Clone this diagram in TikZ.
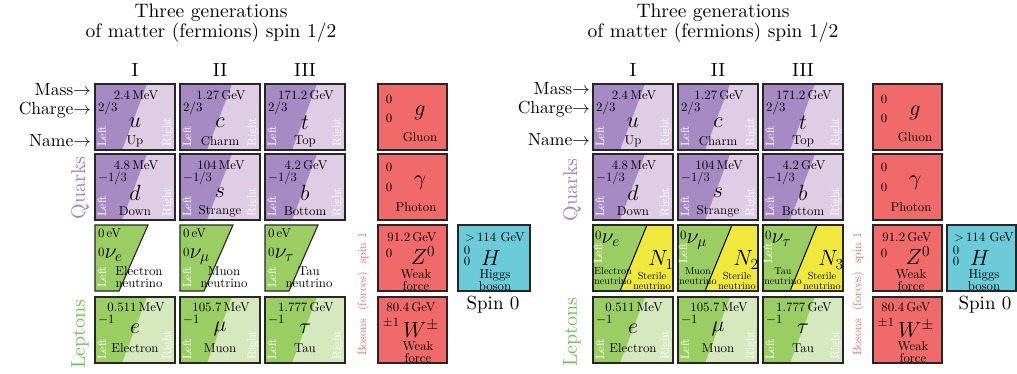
\RequirePackage{fix-cm}
\documentclass[tikz,border=0pt]{standalone}
\usepackage{fontspec}
\setmainfont{lmroman10-regular.otf}[ItalicFont=lmroman10-italic.otf,BoldFont=lmroman10-bold.otf,BoldItalicFont=lmroman10-bolditalic.otf]
\definecolor{qdark}{RGB}{167,138,196}
\definecolor{qlight}{RGB}{222,205,229}
\definecolor{ldark}{RGB}{154,206,98}
\definecolor{llight}{RGB}{214,232,190}
\definecolor{bred}{RGB}{240,106,106}
\definecolor{hcyan}{RGB}{108,203,217}
\definecolor{nyellow}{RGB}{240,232,58}
\definecolor{qlabel}{RGB}{160,128,200}
\definecolor{llabel}{RGB}{108,196,80}
\definecolor{blabel}{RGB}{238,110,110}
\tikzset{
  cellbox/.style 2 args={draw=black!85,line width=1.1pt,inner sep=0pt,minimum width=#1pt,minimum height=#2pt},
  boxt/.style={inner sep=0pt,font=\fontsize{12.8}{12.5}\selectfont},
  smallt/.style={inner sep=0pt,font=\fontsize{10.2}{10.5}\selectfont},
  symt/.style={inner sep=0pt,font=\fontsize{22}{22}\selectfont},
  lrt/.style={inner sep=0pt,rotate=90,anchor=west,text=white,font=\fontsize{12}{12}\selectfont},
  titlet/.style={inner sep=0pt,align=center,font=\fontsize{19.5}{20.5}\selectfont},
  headt/.style={inner sep=0pt,font=\fontsize{19}{20}\selectfont},
  labelt/.style={inner sep=0pt,anchor=east,font=\fontsize{17.5}{18}\selectfont},
  famt/.style={inner sep=0pt,rotate=90,font=\fontsize{20}{21}\selectfont},
}
\newcommand{\symfont}{\fontsize{22}{22}\selectfont}
\newcommand{\splitcell}[9]{%
  \begin{scope}[shift={(#2,#3)}]
    \fill[#5] (0,0) rectangle (80,66);
    \fill[#4] (0,0) -- (52,0) -- (27,66) -- (0,66) -- cycle;
    \node[cellbox={80}{66}] (#1) at (40,33) {};
    \node[lrt] (#1-left) at (7,63) {Left};
    \node[lrt] (#1-right) at (73,63) {Right};
    \node[boxt] (#1-mass) at (41,\massy) {#6};
    \node[boxt,anchor=west] (#1-charge) at (3,\chy) {#7};
    \node[symt] (#1-sym) at (40,\symy) {$#8$};
    \node[boxt] (#1-name) at (40,\namey) {#9};
  \end{scope}}
\newcommand{\nucellA}[5]{%
  \begin{scope}[shift={(#2,#3)}]
    \filldraw[fill=ldark,draw=black!85,line width=1.1pt] (0,0) -- (53,0) -- (24,66) -- (0,66) -- cycle;
    \node[lrt] (#1-left) at (7,63) {Left};
    \node[boxt,anchor=west] (#1-mass) at (3,8) {0\,eV};
    \node[boxt,anchor=base west] (#1-sym) at (3,33) {\raisebox{2pt}{0}{\symfont$#4$}};
    \node[boxt,align=center] (#1-name) at (44,52) {#5};
  \end{scope}}
\newcommand{\nucellB}[6]{%
  \begin{scope}[shift={(#2,#3)}]
    \fill[nyellow] (0,0) rectangle (80,66);
    \fill[ldark] (0,0) -- (54,0) -- (27,66) -- (0,66) -- cycle;
    \draw[black,line width=1pt] (54,0) -- (27,66);
    \node[cellbox={80}{66}] (#1) at (40,33) {};
    \node[lrt] (#1-left) at (5,39) {Left};
    \node[boxt,anchor=base west] (#1-sym) at (2,18) {\raisebox{4pt}{0}{\symfont$#4$}};
    \node[smallt,align=center] (#1-name) at (20,51) {#5};
    \node[symt] (#1-N) at (68,35) {$#6$};
    \node[smallt,align=center] (#1-st) at (59,56) {Sterile\\neutrino};
  \end{scope}}
\newcommand{\bcell}[5]{\node[cellbox={#5}{66},fill=#4] (#1) at ({#2+#5/2},{#3+33}) {};}
\newcommand{\bosonset}[4]{%
  \bcell{#1g}{#2}{84}{bred}{69}
  \bcell{#1a}{#2}{154}{bred}{69}
  \bcell{#1z}{#2}{225}{bred}{69}
  \bcell{#1w}{#2}{297}{bred}{69}
  \bcell{#1h}{#3}{225}{hcyan}{#4}
  \begin{scope}[shift={(#2,84)}]
    \node[boxt] (#1g-m) at (11,15) {0};
    \node[boxt] (#1g-c) at (11,34) {0};
    \node[symt] (#1g-s) at (42,29) {$g$};
    \node[boxt] (#1g-n) at (42,53) {Gluon};
  \end{scope}
  \begin{scope}[shift={(#2,154)}]
    \node[boxt] (#1a-m) at (11,13) {0};
    \node[boxt] (#1a-c) at (11,33) {0};
    \node[symt] (#1a-s) at (42,29) {$\gamma$};
    \node[boxt] (#1a-n) at (38,53) {Photon};
  \end{scope}
  \begin{scope}[shift={(#2,225)}]
    \node[boxt] (#1z-m) at (34,12) {91.2\,GeV};
    \node[boxt] (#1z-c) at (11,28) {0};
    \node[symt] (#1z-s) at (45,31) {$Z^0$};
    \node[boxt,align=center] (#1z-n) at (38,55) {Weak\\force};
  \end{scope}
  \begin{scope}[shift={(#2,297)}]
    \node[boxt] (#1w-m) at (33,10) {80.4\,GeV};
    \node[boxt] (#1w-c) at (13,26) {$\pm1$};
    \node[symt] (#1w-s) at (43,32) {$W^\pm$};
    \node[boxt,align=center] (#1w-n) at (40,55) {Weak\\force};
  \end{scope}
  \begin{scope}[shift={(#3,225)}]
    \node[boxt] (#1h-m) at (37,12) {$>$\,114 GeV};
    \node[boxt] (#1h-m2) at (9,25) {0};
    \node[boxt] (#1h-c) at (9,36) {0};
    \node[symt] (#1h-s) at (33,33) {$H$};
    \node[boxt,align=center] (#1h-n) at (37,55) {Higgs\\boson};
  \end{scope}}
\newcommand{\panel}[7]{% #1 prefix, #2 col1, #3 col2, #4 col3, #5 boson x, #6 higgs x, #7 higgs w
  \def\massy{11}\def\chy{24}\def\symy{39}\def\namey{57}%
  \splitcell{#1u}{#2}{84}{qdark}{qlight}{2.4\,MeV}{2/3}{u}{Up}
  \splitcell{#1c}{#3}{84}{qdark}{qlight}{1.27\,GeV}{2/3}{c}{Charm}
  \splitcell{#1t}{#4}{84}{qdark}{qlight}{171.2\,GeV}{2/3}{t}{Top}
  \splitcell{#1d}{#2}{154}{qdark}{qlight}{4.8\,MeV}{$-1/3$}{d}{Down}
  \splitcell{#1s}{#3}{154}{qdark}{qlight}{104\,MeV}{$-1/3$}{s}{Strange}
  \splitcell{#1b}{#4}{154}{qdark}{qlight}{4.2\,GeV}{$-1/3$}{b}{Bottom}
  \def\massy{10}\def\chy{23}\def\symy{32}\def\namey{51}%
  \splitcell{#1e}{#2}{297}{ldark}{llight}{0.511\,MeV}{$-1$}{e}{Electron}
  \splitcell{#1m}{#3}{297}{ldark}{llight}{105.7\,MeV}{$-1$}{\mu}{Muon}
  \splitcell{#1ta}{#4}{297}{ldark}{llight}{1.777\,GeV}{$-1$}{\tau}{Tau}
  \bosonset{#1}{#5}{#6}{#7}}
\begin{document}
\begin{tikzpicture}[x=1pt,y=-1pt]
\useasboundingbox (0,0) rectangle (1017,373);
% ---------- left panel ----------
\node[titlet] (Ltitle) at (211,23) {Three generations\\of matter (fermions) spin 1/2};
\node[headt] (LI) at (135,70) {I};
\node[headt] (LII) at (220,70) {II};
\node[headt] (LIII) at (305,70) {III};
\node[labelt] (Lmass) at (91,90) {Mass$\rightarrow$};
\node[labelt] (Lcharge) at (91,110) {Charge$\rightarrow$};
\node[labelt] (Lname) at (91,141) {Name$\rightarrow$};
\node[famt,text=qlabel] (Lquarks) at (80,188) {Quarks};
\node[famt,text=llabel] (Lleptons) at (80,334) {Leptons};
\panel{L}{95}{180}{265}{378}{458}{72}
\nucellA{Lnue}{95}{225}{\nu_e}{Electron\\neutrino}
\nucellA{Lnum}{180}{225}{\nu_\mu}{Muon\\neutrino}
\nucellA{Lnut}{265}{225}{\nu_\tau}{Tau\\neutrino}
\node[famt,text=blabel,font=\fontsize{12}{12}\selectfont] (Lbosons) at (363,294) {Bosons \ (forces) \ spin 1};
\node[headt] (Lspin) at (493,305) {Spin 0};
% ---------- right panel ----------
\node[titlet] (Rtitle) at (713,23) {Three generations\\of matter (fermions) spin 1/2};
\node[headt] (RI) at (633,70) {I};
\node[headt] (RII) at (718,70) {II};
\node[headt] (RIII) at (803,70) {III};
\node[labelt] (Rmass) at (590,89) {Mass$\rightarrow$};
\node[labelt] (Rcharge) at (590,109) {Charge$\rightarrow$};
\node[labelt] (Rname) at (590,140) {Name$\rightarrow$};
\node[famt,text=qlabel] (Rquarks) at (572,190) {Quarks};
\node[famt,text=llabel] (Rleptons) at (572,332) {Leptons};
\panel{R}{593}{678}{763}{873}{947}{69}
\nucellB{Rnue}{593}{225}{\nu_e}{Electron\\neutrino}{N_1}
\nucellB{Rnum}{678}{225}{\nu_\mu}{Muon\\neutrino}{N_2}
\nucellB{Rnut}{763}{225}{\nu_\tau}{Tau\\neutrino}{N_3}
\node[famt,text=blabel,font=\fontsize{12}{12}\selectfont] (Rbosons) at (858,294) {Bosons \ (forces) \ spin 1};
\node[headt] (Rspin) at (985,305) {Spin 0};
\end{tikzpicture}
\end{document}
